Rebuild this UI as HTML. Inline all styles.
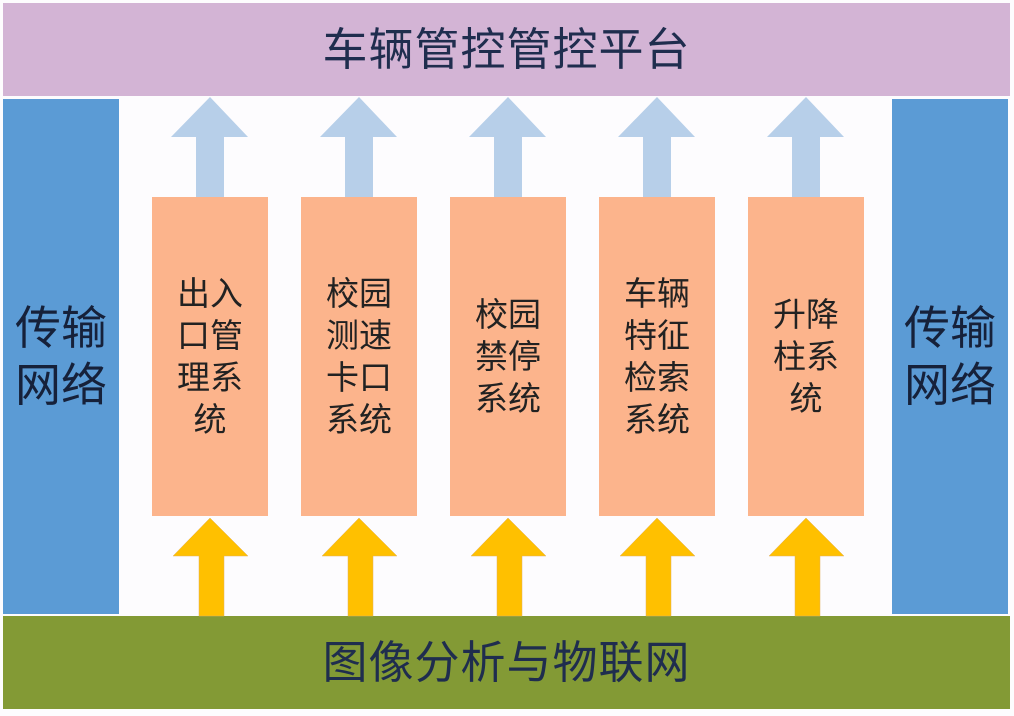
<!DOCTYPE html>
<html><head><meta charset="utf-8"><style>
body{margin:0;width:1014px;height:716px;background:#fdfcfe;position:relative;overflow:hidden;font-family:"Liberation Sans","Noto Sans CJK SC",sans-serif}
.a{position:absolute}
.top{left:3px;top:3px;width:1007px;height:93px;background:#d3b4d5;color:#1f2d4e;font-size:45px;text-align:center;line-height:93px;letter-spacing:1px}
.bot{left:3px;top:616px;width:1007px;height:93px;background:#839a35;color:#1f2d4e;font-size:45px;text-align:center;line-height:93px;letter-spacing:1px}
.side{top:99px;width:116px;height:515px;background:#5b9bd5;color:#16213a;font-size:46px;display:flex;align-items:center;justify-content:center;text-align:center;line-height:57px}
.box{top:197px;width:116px;height:319px;background:#fcb48c;color:#222;font-size:33px;display:flex;align-items:center;justify-content:center;text-align:center;line-height:42px}
</style></head><body>
<div class="a top">车辆管控管控平台</div>
<div class="a bot">图像分析与物联网</div>
<div class="a side" style="left:3px">传输<br>网络</div>
<div class="a side" style="left:892px">传输<br>网络</div>
<div class="a box" style="left:152px">出入<br>口管<br>理系<br>统</div>
<div class="a box" style="left:301px">校园<br>测速<br>卡口<br>系统</div>
<div class="a box" style="left:450px">校园<br>禁停<br>系统</div>
<div class="a box" style="left:599px">车辆<br>特征<br>检索<br>系统</div>
<div class="a box" style="left:748px">升降<br>柱系<br>统</div>
<svg class="a" style="left:0;top:0" width="1014" height="716">
<g id="u" fill="#b7cfe9"><polygon points="210,97 248,137 224,137 224,197 196,197 196,137 171,137"/></g>
<use href="#u" x="149"/><use href="#u" x="298"/><use href="#u" x="447"/><use href="#u" x="596"/>
<g id="y" fill="#ffc000" stroke="#e0b060" stroke-width="0.5"><polygon points="210,518 248,556 224,556 224,616 199,616 199,556 173,556"/></g>
<use href="#y" x="149"/><use href="#y" x="298"/><use href="#y" x="447"/><use href="#y" x="596"/>
</svg>
</body></html>
